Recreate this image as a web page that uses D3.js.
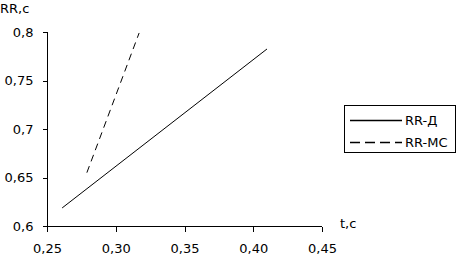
<!DOCTYPE html>
<html lang="en">
<head>
<meta charset="UTF-8">
<style>
body { margin: 0; background: #fff; }
svg text { font-family: "DejaVu Sans", Arial, sans-serif; font-size: 13px; fill: #000; }
.axis path, .axis line { stroke: #000; shape-rendering: crispEdges; }
</style>
</head>
<body>
<div id="chart"></div>
<script src="https://cdn.jsdelivr.net/npm/d3@7"></script>
<script>
const xTicks = [0.25, 0.30, 0.35, 0.40, 0.45];
const yTicks = [0.6, 0.65, 0.7, 0.75, 0.8];
const seriesNames = ["RR-Д", "RR-MC"];
const tD = [0.261, 0.41];
const rrD = [0.6186, 0.7825];
const tMC = [0.279, 0.317];
const rrMC = [0.655, 0.799];

const W = 457, H = 256;
const svg = d3.select("#chart").append("svg").attr("width", W).attr("height", H);

const x = d3.scaleLinear().domain([0.25, 0.45]).range([47, 322]);
const y = d3.scaleLinear().domain([0.6, 0.8]).range([226, 32]);

const comma = d => d3.format(".2f")(d).replace(".", ",");
const commaY = d => String(+d.toFixed(2)).replace(".", ",");

svg.append("g").attr("class", "axis")
    .attr("transform", "translate(0,226.5)")
    .call(d3.axisBottom(x).tickValues(xTicks).tickSize(5).tickSizeOuter(0).tickPadding(12).tickFormat(comma))
    .call(g => g.select(".domain").attr("d", "M47,0H322"))
    .selectAll("text").style("font-size", "13px").style("font-family", "'DejaVu Sans', Arial, sans-serif");

svg.append("g").attr("class", "axis")
    .attr("transform", "translate(47.5,0)")
    .call(d3.axisLeft(y).tickValues(yTicks).tickSize(5).tickSizeOuter(0).tickPadding(9).tickFormat(commaY))
    .call(g => g.select(".domain").attr("d", "M0,32V226"))
    .selectAll("text").style("font-size", "13px").style("font-family", "'DejaVu Sans', Arial, sans-serif");

svg.append("text").attr("x", 0).attr("y", 13).text("RR,c");
svg.append("text").attr("x", 340).attr("y", 228).text("t,c");

const line = d3.line().x(d => x(d[0])).y(d => y(d[1]));

svg.append("path")
    .datum(d3.zip(tD, rrD))
    .attr("d", line)
    .attr("fill", "none").attr("stroke", "#000").attr("stroke-width", 1);

svg.append("path")
    .datum(d3.zip(tMC, rrMC))
    .attr("d", line)
    .attr("fill", "none").attr("stroke", "#000").attr("stroke-width", 1)
    .attr("stroke-dasharray", "7,5");

// legend
const lg = svg.append("g");
lg.append("rect").attr("x", 344.5).attr("y", 105.5).attr("width", 111).attr("height", 47)
    .attr("fill", "#fff").attr("stroke", "#000");
seriesNames.forEach((name, i) => {
    const yy = 120 + i * 22;
    lg.append("line").attr("x1", 350).attr("x2", 402).attr("y1", yy + 0.5).attr("y2", yy + 0.5)
        .attr("stroke", "#000").attr("stroke-width", 1.3)
        .attr("stroke-dasharray", i === 1 ? "10,5" : null);
    lg.append("text").attr("x", 405).attr("y", yy + 4.5).text(name);
});
</script>
</body>
</html>
